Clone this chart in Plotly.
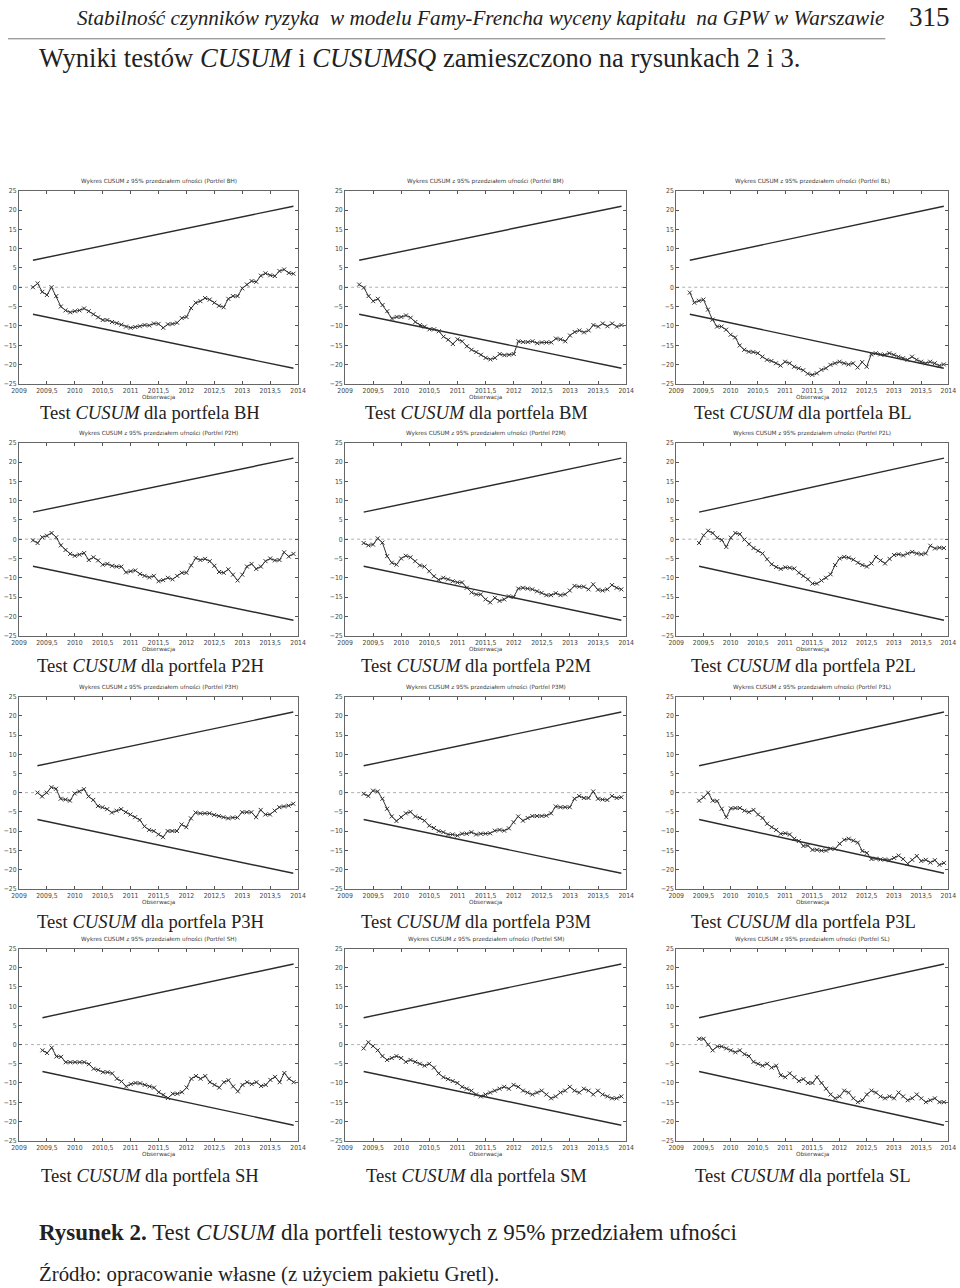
import plotly.graph_objects as go

# ---------------- data ----------------
PORTFOLIOS = ["BH", "BM", "BL", "P2H", "P2M", "P2L", "P3H", "P3M", "P3L", "SH", "SM", "SL"]

# first observation of the CUSUM series (decimal year), monthly steps afterwards
START = {
    "BH": 2009.25, "BM": 2009.25, "BL": 2009.25,
    "P2H": 2009.25, "P2M": 2009.33, "P2L": 2009.42,
    "P3H": 2009.33, "P3M": 2009.33, "P3L": 2009.42,
    "SH": 2009.42, "SM": 2009.33, "SL": 2009.42,
}

BH = [0, 1, -1.2, -2, 0, -2.3, -5, -6, -6.5, -6.2, -6, -5.5, -6.2, -7, -7.8, -8.5, -8.5, -9, -9.3, -9.7,
      -10.2, -10.5, -10.3, -10.1, -9.8, -9.9, -9.4, -9.5, -10.5, -9.6, -9.5, -9.2, -8, -7.7, -5.4, -4, -3.6,
      -2.8, -3.2, -4, -4.8, -5.2, -3, -2.3, -2.3, -0.3, 0.7, 1.6, 1.4, 3, 3.6, 3.1, 2.9, 4.2, 4.6, 3.7, 3.5]
BM = [0.7, -0.1, -2.3, -3.6, -3, -4.6, -6.2, -8.1, -7.7, -7.7, -7.3, -7.9, -9, -9.8, -10.2, -10.9, -10.9,
      -11.4, -12.8, -13.6, -14.7, -13.5, -14, -15.3, -16.2, -16.8, -17.5, -18.3, -18.7, -18.3, -17.3, -17.6,
      -17.5, -17.3, -14, -14.2, -14.2, -14, -14.5, -14.3, -14.3, -14.3, -13.3, -13.5, -14, -12.5, -11.6,
      -11.2, -11.7, -11.2, -9.8, -10.2, -9.4, -10.1, -9.4, -10.2, -9.8]
BL = [-1.4, -4, -3.5, -3.2, -5.8, -8.4, -10.2, -10.2, -11, -12.3, -13, -15.1, -16.2, -16.7, -16.8, -17.1,
      -18, -18.8, -19.1, -19.7, -20.3, -19.3, -19.7, -20.6, -21, -21.5, -22.4, -22.7, -22.3, -21.4, -21,
      -20.1, -19.7, -19.3, -19.7, -20, -19.7, -20.8, -19.4, -20.6, -17.4, -17.1, -17.4, -17.5, -17.1, -17.5,
      -18, -18.4, -18.8, -18, -18.8, -19.3, -19.7, -19.3, -19.7, -20.3, -20]
P2H = [-0.3, -1, 0.5, 0.9, 1.6, 0.5, -1.6, -2.8, -3.8, -4.3, -4, -3.6, -5.4, -4.7, -5.5, -6.6, -6.4, -6.9,
       -7.1, -7.1, -8.6, -8.3, -8.1, -9, -9.5, -9.9, -9.5, -10.9, -10.6, -10, -10.4, -9.5, -8.7, -8.7, -6.8,
       -4.9, -5.4, -5.1, -5.7, -6.9, -8.5, -8.7, -7.8, -9.2, -10.7, -9.2, -7.1, -6.4, -7.7, -7.1, -5.7, -5,
       -5.5, -5.4, -3.4, -4.5, -3.8]
P2M = [-1, -1.6, -1.4, 0.2, -0.9, -4.4, -6.1, -6.6, -5, -4.3, -4.7, -5.7, -6.8, -7.1, -8.3, -9.6, -10.5,
       -10, -10.4, -10.9, -11.2, -11.2, -12.6, -13.8, -14.3, -14.3, -15.6, -16.4, -15.2, -16, -15.6, -14.8,
       -15, -12.8, -12.6, -12.8, -13, -13.5, -13.9, -14.5, -14.5, -14, -14.5, -14.3, -13.3, -12.1, -12.3,
       -12.3, -13, -11.7, -13.1, -13.3, -13, -11.9, -12.6, -13]
P2L = [-1, 1, 2.2, 1.6, 0.4, -0.2, -2, 0.4, 1.6, 1.3, -0.1, -1.3, -2.3, -3, -3.7, -5.2, -6.5, -7.2, -7.7,
       -7.3, -7.4, -7.6, -8.7, -9.5, -10.4, -11.5, -11.5, -10.7, -10, -9.1, -6.7, -5, -4.6, -4.8, -5.3, -6.1,
       -6.7, -7.1, -6.3, -4.6, -5.5, -6.3, -5.1, -4.1, -3.9, -4.2, -3.7, -3.3, -3.7, -3.9, -3.7, -1.7, -2.4,
       -2.2, -2.3]
P3H = [0, -1, 0, 1.4, 1, -1.6, -1.8, -2.1, -0.2, 0.3, 0.9, -1, -1.9, -3.5, -3.8, -4.3, -5.2, -4.7, -4.3,
       -5.1, -5.7, -6.4, -7.1, -8.8, -9.7, -10, -10.9, -11.6, -10, -10, -10, -8.3, -9, -6.7, -5.2, -5.4, -5.4,
       -5.4, -5.8, -6.1, -6.4, -6.7, -6.5, -6.5, -5.1, -5.1, -5.1, -6.4, -4.5, -5.7, -5.7, -4.7, -3.8, -3.6,
       -3.4, -2.9]
P3M = [-0.3, -0.9, 0.5, 0.3, -1.6, -4.2, -6.2, -7.4, -6.4, -5.4, -5, -6.2, -6.6, -7.3, -8.6, -9.2, -10,
       -10.3, -10.9, -10.9, -11.2, -10.7, -10.7, -10.3, -10.9, -10.7, -10.7, -10.6, -9.9, -9.7, -9.9, -9.3,
       -7.7, -6.2, -7.3, -6.6, -6.1, -6.1, -6.1, -6, -5.4, -3.6, -3.8, -3.8, -3.8, -1.6, -0.9, -1.4, -1.4,
       0.3, -1.6, -1.8, -1.9, -0.9, -1.4, -1.2]
P3L = [-2.1, -1.2, 0, -2.1, -2.2, -4.2, -6.4, -4.1, -4, -4, -4.7, -5.1, -4.5, -5.7, -6.6, -8.1, -9, -9.7,
       -10.7, -10.6, -10.9, -12, -12.6, -13.9, -13.8, -14.9, -14.9, -15.1, -15.1, -14.6, -14.6, -13.3, -12.3,
       -12, -12.5, -13, -15.2, -15.7, -17.3, -17.2, -17.4, -17.4, -17.6, -17, -16.4, -17.3, -18.5, -17.5,
       -16.5, -17.8, -17.5, -18.2, -17.6, -18.8, -18.3]
SH = [-1.5, -2.2, -0.8, -3.1, -3.2, -4.6, -4.6, -4.6, -4.6, -4.6, -5.1, -6.3, -6.6, -7.2, -7.2, -7.5, -8.9,
      -9.6, -10.9, -10.3, -10, -10.1, -10.5, -10.9, -11.2, -12.4, -13.1, -13.9, -12.8, -12.8, -12.4, -11.2,
      -8.9, -8.2, -8.9, -8.2, -9.8, -10.5, -11.2, -9.8, -9.3, -10.9, -12.2, -10.5, -9.8, -10.3, -9.8, -10.8,
      -10.5, -9.2, -8.4, -9.8, -7.4, -8.9, -9.8]
SM = [-1, 0.6, -0.4, -1.5, -3, -4, -3.5, -3, -3.5, -4.5, -4, -4.5, -5, -5.5, -5, -6, -7.5, -8.5, -9, -9.5,
      -10, -11, -11.5, -12, -13, -13.5, -13, -12.5, -12, -11.5, -11, -11.5, -10.5, -11, -12, -12.5, -13,
      -12.5, -12, -13, -14, -13.5, -12.5, -12, -11, -12, -12.5, -11.5, -12, -13, -12, -13, -13.5, -14, -14,
      -13.5]
SL = [1.5, 1.5, 0, -1.5, -0.5, -0.5, -1, -1.5, -2, -1.5, -2.5, -3, -4.5, -5, -5.5, -5, -6, -5.5, -8, -8.5,
      -7.5, -8.5, -9.5, -9, -10, -10, -8.5, -10, -11.5, -13, -14, -13.5, -12, -12.5, -14, -15, -14.5, -13,
      -12, -12.5, -13.5, -14, -13.5, -14, -12.5, -13.5, -14.5, -14, -13, -14, -15, -14.5, -14, -15, -15]

SERIES = {"BH": BH, "BM": BM, "BL": BL, "P2H": P2H, "P2M": P2M, "P2L": P2L,
          "P3H": P3H, "P3M": P3M, "P3L": P3L, "SH": SH, "SM": SM, "SL": SL}

# 95% band: value at first and at last observation
BAND_FIRST = 7.0
BAND_LAST = 21.0

X_TICKS = [2009, 2009.5, 2010, 2010.5, 2011, 2011.5, 2012, 2012.5, 2013, 2013.5, 2014]
X_TICK_TEXT = ["2009", "2009,5", "2010", "2010,5", "2011", "2011,5", "2012", "2012,5",
               "2013", "2013,5", "2014"]
Y_TICKS = [-25, -20, -15, -10, -5, 0, 5, 10, 15, 20, 25]

# ---------------- layout geometry ----------------
W, H = 960, 1288
# target positions (pixels in the photographed page)
COLS = [(19, 298), (345, 626), (676, 948)]
ROWS = [(190, 383), (442, 635), (696, 888), (948, 1140)]
SUB_Y = [412, 665, 921, 1175]
SUB_X = [150, 476, 803]

# measured mapping figure-pixel -> photographed-pixel: x' = 8 + 0.983 x, y' = 3.2 + 0.994 y
SX, OX, SY, OY = 0.983, 8.0, 0.994, 3.2


def px(x):
    return min(1.0, max(0.0, (x - OX) / SX / W))


def py(y):
    return min(1.0, max(0.0, 1 - (y - OY) / SY / H))


fig = go.Figure()
annotations = []
shapes = []
layout = {}

TICK_FONT = dict(family="Liberation Sans Narrow, DejaVu Sans Condensed, DejaVu Sans",
                 size=6.8, color="#444444")
TITLE_FONT = dict(family="DejaVu Sans", size=5.7, color="#3a3a3a")

for i, name in enumerate(PORTFOLIOS):
    r, c = divmod(i, 3)
    k = "" if i == 0 else str(i + 1)
    xa, ya = "x" + k, "y" + k
    vals = SERIES[name]
    xs = [START[name] + j / 12 for j in range(len(vals))]
    x0, x1 = xs[0], xs[-1]

    # band lines
    fig.add_trace(go.Scatter(x=[x0, x1], y=[BAND_FIRST, BAND_LAST], mode="lines",
                             line=dict(color="#2b2b2b", width=1.4), xaxis=xa, yaxis=ya,
                             showlegend=False, hoverinfo="skip"))
    fig.add_trace(go.Scatter(x=[x0, x1], y=[-BAND_FIRST, -BAND_LAST], mode="lines",
                             line=dict(color="#2b2b2b", width=1.4), xaxis=xa, yaxis=ya,
                             showlegend=False, hoverinfo="skip"))
    # CUSUM series
    fig.add_trace(go.Scatter(x=xs, y=vals, mode="lines+markers",
                             line=dict(color="#333333", width=1),
                             marker=dict(symbol="x-thin", size=4,
                                         line=dict(color="#333333", width=1)),
                             xaxis=xa, yaxis=ya, showlegend=False, name=name))

    cx0, cx1 = COLS[c]
    ry0, ry1 = ROWS[r]
    layout["xaxis" + k] = dict(
        domain=[px(cx0), px(cx1)], range=[2009, 2014], anchor=ya,
        tickmode="array", tickvals=X_TICKS, ticktext=X_TICK_TEXT,
        ticks="inside", ticklen=3, tickcolor="#555", showline=True, linecolor="#666",
        linewidth=1, mirror="ticks", showgrid=False, zeroline=False, tickfont=TICK_FONT,
    )
    layout["yaxis" + k] = dict(
        domain=[py(ry1), py(ry0)], range=[-25, 25], anchor=xa,
        tickmode="array", tickvals=Y_TICKS,
        ticks="inside", ticklen=3, tickcolor="#555", showline=True, linecolor="#666",
        linewidth=1, mirror="ticks", showgrid=False, zeroline=False, tickfont=TICK_FONT,
    )
    # dotted zero line
    shapes.append(dict(type="line", xref=xa + " domain", yref=ya, x0=0, x1=1, y0=0, y1=0,
                       line=dict(color="#b0b0b0", width=1, dash="dot"), layer="below"))
    mid = (cx0 + cx1) / 2
    annotations.append(dict(text=f"Wykres CUSUM z 95% przedziałem ufności (Portfel {name})",
                            x=px(mid), y=py(ry0 - 9), xref="paper", yref="paper",
                            showarrow=False, font=TITLE_FONT, xanchor="center", yanchor="middle"))
    annotations.append(dict(text="Obserwacja", x=px(mid), y=py(ry1 + 14), xref="paper",
                            yref="paper", showarrow=False, font=TITLE_FONT,
                            xanchor="center", yanchor="middle"))
    annotations.append(dict(text=f"Test <i>CUSUM</i> dla portfela {name}",
                            x=px(SUB_X[c]), y=py(SUB_Y[r]), xref="paper", yref="paper",
                            showarrow=False,
                            font=dict(family="Liberation Serif", size=18.6, color="#222"),
                            xanchor="center", yanchor="middle"))

SERIF = "Liberation Serif"
annotations += [
    dict(text="<i>Stabilność czynników ryzyka  w modelu Famy-Frencha wyceny kapitału  na GPW w Warszawie</i>",
         x=px(887), y=py(17), xref="paper", yref="paper", showarrow=False, xanchor="right",
         yanchor="middle", font=dict(family=SERIF, size=21.2, color="#222")),
    dict(text="315", x=1.0, y=py(16), xref="paper", yref="paper", showarrow=False,
         xanchor="right", yanchor="middle", font=dict(family=SERIF, size=27, color="#222")),
    dict(text="Wyniki testów <i>CUSUM</i> i <i>CUSUMSQ</i> zamieszczono na rysunkach 2 i 3.",
         x=px(37), y=py(57), xref="paper", yref="paper", showarrow=False, xanchor="left",
         yanchor="middle", font=dict(family=SERIF, size=26.6, color="#222")),
    dict(text="<b>Rysunek 2.</b> Test <i>CUSUM</i> dla portfeli testowych z 95% przedziałem ufności",
         x=px(37), y=py(1232), xref="paper", yref="paper", showarrow=False, xanchor="left",
         yanchor="middle", font=dict(family=SERIF, size=23, color="#222")),
    dict(text="Źródło: opracowanie własne (z użyciem pakietu Gretl).",
         x=px(37), y=py(1273), xref="paper", yref="paper", showarrow=False, xanchor="left",
         yanchor="middle", font=dict(family=SERIF, size=20.8, color="#222")),
]
shapes.append(dict(type="line", xref="paper", yref="paper", x0=0, x1=px(885), y0=py(38), y1=py(38),
                   line=dict(color="#777", width=1)))

fig.update_layout(width=W, height=H, margin=dict(l=0, r=0, t=0, b=0),
                  paper_bgcolor="white", plot_bgcolor="white",
                  annotations=annotations, shapes=shapes, **layout)

fig.write_html("out.html")
